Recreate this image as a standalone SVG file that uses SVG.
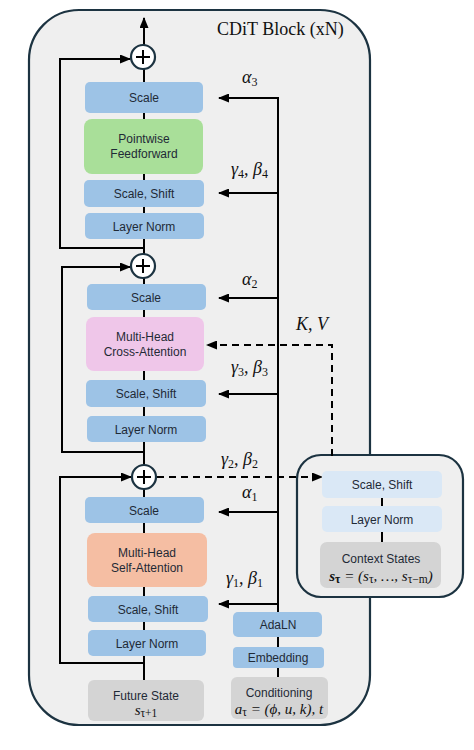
<svg xmlns="http://www.w3.org/2000/svg" width="474" height="750" viewBox="0 0 474 750">
<defs>
<marker id="ah" markerUnits="userSpaceOnUse" markerWidth="11" markerHeight="9" refX="10" refY="4.5" orient="auto"><path d="M0,0 L11,4.5 L0,9 z" fill="#000"/></marker>
<style>
.frame{fill:#efefef;stroke:#1c3341;stroke-width:2.2}
.blue{fill:#9dc3e6}
.lblue{fill:#dae8f6}
.green{fill:#a9df99}
.pink{fill:#efc6e9}
.salmon{fill:#f5bea3}
.gray{fill:#d4d4d4}
.t{font-family:"Liberation Sans",Arial,sans-serif;font-size:12px;fill:#1f2a36;text-anchor:middle}
.m{font-family:"Liberation Serif","DejaVu Serif",serif;font-style:italic;font-size:18px;fill:#111}
.mf{font-family:"Liberation Serif","DejaVu Serif",serif;font-style:italic;font-size:15px;fill:#111;text-anchor:middle}
.sub{font-size:12px;font-style:normal}
.mf .sub{font-size:11.5px}
.c{fill:none;stroke:#000;stroke-width:2}
.d{fill:none;stroke:#000;stroke-width:2;stroke-dasharray:7,5}
.circ{fill:#fff;stroke:#1c3341;stroke-width:2.2}
.title{font-family:"Liberation Serif","DejaVu Serif",serif;font-size:18px;fill:#111}
</style>
</defs>

<g id="cdit-frame">
<rect class="frame" x="29" y="10" width="341" height="715" rx="50"/>
<text class="title" x="217" y="35">CDiT Block (xN)</text>
</g>
<g id="context-frame"><rect class="frame" x="297" y="455" width="166" height="142" rx="24"/></g>

<g id="connectors">
<line class="c" x1="144" y1="680" x2="144" y2="18" marker-end="url(#ah)"/>
<path class="c" d="M144,248 H60 V59 H130" marker-end="url(#ah)"/>
<path class="c" d="M144,452 H62 V267 H130" marker-end="url(#ah)"/>
<path class="c" d="M144,663 H60 V477 H131" marker-end="url(#ah)"/>
<line class="c" x1="278" y1="612" x2="278" y2="97"/>
<path class="c" d="M279,98 H219" marker-end="url(#ah)"/>
<path class="c" d="M279,193 H219" marker-end="url(#ah)"/>
<path class="c" d="M279,298 H219" marker-end="url(#ah)"/>
<path class="c" d="M279,394 H219" marker-end="url(#ah)"/>
<path class="c" d="M279,512 H219" marker-end="url(#ah)"/>
<path class="c" d="M279,604 H219" marker-end="url(#ah)"/>
<line class="c" x1="278" y1="637" x2="278" y2="647"/>
<line class="c" x1="278" y1="668" x2="278" y2="677"/>
<path class="d" d="M332,456 V345 H207" marker-end="url(#ah)"/>
<path class="d" d="M157,477 H322" marker-end="url(#ah)"/>
<line class="c" x1="382" y1="498" x2="382" y2="506"/>
<line class="c" x1="382" y1="532" x2="382" y2="542"/>
</g>

<g id="labels">
<text class="m" x="242" y="83">α<tspan class="sub" dy="3">3</tspan></text>
<text class="m" x="231" y="175">γ<tspan class="sub" dy="3">4</tspan><tspan dy="-3">, β</tspan><tspan class="sub" dy="3">4</tspan></text>
<text class="m" x="242" y="285">α<tspan class="sub" dy="3">2</tspan></text>
<text class="m" x="296" y="330">K, V</text>
<text class="m" x="231" y="373">γ<tspan class="sub" dy="3">3</tspan><tspan dy="-3">, β</tspan><tspan class="sub" dy="3">3</tspan></text>
<text class="m" x="221" y="465">γ<tspan class="sub" dy="3">2</tspan><tspan dy="-3">, β</tspan><tspan class="sub" dy="3">2</tspan></text>
<text class="m" x="242" y="498">α<tspan class="sub" dy="3">1</tspan></text>
<text class="m" x="226" y="584">γ<tspan class="sub" dy="3">1</tspan><tspan dy="-3">, β</tspan><tspan class="sub" dy="3">1</tspan></text>
</g>

<g id="add3"><circle class="circ" cx="143" cy="57" r="12"/><path class="c" d="M136,57 H150 M143,50 V64"/></g>
<g id="add2"><circle class="circ" cx="143" cy="266" r="12"/><path class="c" d="M136,266 H150 M143,259 V273"/></g>
<g id="add1"><circle class="circ" cx="144" cy="477" r="12"/><path class="c" d="M137,477 H151 M144,470 V484"/></g>

<g id="scale3"><rect class="blue" x="85" y="82" width="118" height="31" rx="5"/><text class="t" x="144" y="102">Scale</text></g>
<g id="ffn"><rect class="green" x="84" y="119" width="119" height="55" rx="8"/><text class="t" x="144" y="143">Pointwise</text><text class="t" x="144" y="158">Feedforward</text></g>
<g id="scaleshift4"><rect class="blue" x="84" y="180" width="120" height="27" rx="5"/><text class="t" x="144" y="198">Scale, Shift</text></g>
<g id="layernorm3"><rect class="blue" x="85" y="213" width="119" height="26" rx="5"/><text class="t" x="144" y="231">Layer Norm</text></g>

<g id="scale2"><rect class="blue" x="87" y="284" width="119" height="26" rx="5"/><text class="t" x="146" y="302">Scale</text></g>
<g id="cross-attn"><rect class="pink" x="86" y="317" width="118" height="54" rx="8"/><text class="t" x="145" y="341">Multi-Head</text><text class="t" x="145" y="356">Cross-Attention</text></g>
<g id="scaleshift3"><rect class="blue" x="86" y="380" width="120" height="27" rx="5"/><text class="t" x="146" y="398">Scale, Shift</text></g>
<g id="layernorm2"><rect class="blue" x="87" y="416" width="119" height="26" rx="5"/><text class="t" x="146" y="434">Layer Norm</text></g>

<g id="scale1"><rect class="blue" x="85" y="497" width="119" height="26" rx="5"/><text class="t" x="144" y="515">Scale</text></g>
<g id="self-attn"><rect class="salmon" x="87" y="533" width="120" height="54" rx="8"/><text class="t" x="147" y="557">Multi-Head</text><text class="t" x="147" y="572">Self-Attention</text></g>
<g id="scaleshift1"><rect class="blue" x="88" y="596" width="120" height="26" rx="5"/><text class="t" x="148" y="614">Scale, Shift</text></g>
<g id="layernorm1"><rect class="blue" x="88" y="630" width="118" height="26" rx="5"/><text class="t" x="147" y="648">Layer Norm</text></g>
<g id="future-state"><rect class="gray" x="88" y="680" width="116" height="41" rx="6"/><text class="t" x="146" y="700">Future State</text><text class="mf" x="146" y="715">s<tspan class="sub" dy="2">τ+1</tspan></text></g>

<g id="adaln"><rect class="blue" x="233" y="612" width="89" height="25" rx="5"/><text class="t" x="278" y="629">AdaLN</text></g>
<g id="embedding"><rect class="blue" x="233" y="647" width="91" height="21" rx="4"/><text class="t" x="278" y="662">Embedding</text></g>
<g id="conditioning"><rect class="gray" x="231" y="677" width="97" height="42" rx="6"/><text class="t" x="279" y="697">Conditioning</text><text class="mf" x="279" y="714">a<tspan class="sub" dy="2">τ</tspan><tspan dy="-2"> = (ϕ, u, k), t</tspan></text></g>

<g id="ctx-scaleshift"><rect class="lblue" x="322" y="471" width="120" height="27" rx="5"/><text class="t" x="382" y="489">Scale, Shift</text></g>
<g id="ctx-layernorm"><rect class="lblue" x="322" y="506" width="120" height="26" rx="5"/><text class="t" x="382" y="524">Layer Norm</text></g>
<g id="context-states"><rect class="gray" x="320" y="542" width="121" height="46" rx="7"/><text class="t" x="381" y="563">Context States</text><text class="mf" x="381" y="581"><tspan font-weight="bold">s</tspan><tspan class="sub" font-weight="bold" dy="2">τ</tspan><tspan dy="-2"> = (s</tspan><tspan class="sub" dy="2">τ</tspan><tspan dy="-2">, …, s</tspan><tspan class="sub" dy="2">τ−m</tspan><tspan dy="-2">)</tspan></text></g>
</svg>
